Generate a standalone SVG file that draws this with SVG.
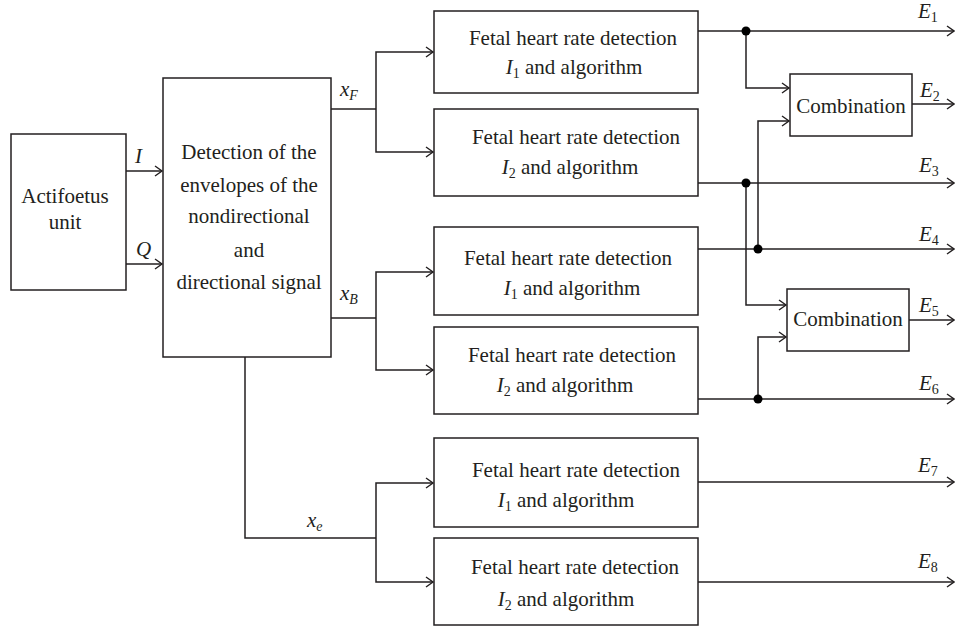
<svg xmlns="http://www.w3.org/2000/svg" width="955" height="630" viewBox="0 0 955 630">
<defs>
<style>
.box{fill:#fff;stroke:#231f20;stroke-width:1.5}
.ln{fill:none;stroke:#231f20;stroke-width:1.5}
.t{font-size:21px;fill:#231f20}
.m{text-anchor:middle}
.i{font-style:italic}
.s{font-size:14px}
.dot{fill:#000}
</style>
<marker id="ar" markerWidth="10" markerHeight="12" refX="8" refY="6" orient="auto" markerUnits="userSpaceOnUse">
<path d="M1,1 L8,6 L1,11" fill="none" stroke="#231f20" stroke-width="1.4"/>
</marker>
</defs>
<rect width="955" height="630" fill="#fff"/>
<g font-family="Liberation Serif, Times New Roman, serif">
<g id="connectors">
<path class="ln" d="M126,171 H162" marker-end="url(#ar)"/>
<path class="ln" d="M126,264 H162" marker-end="url(#ar)"/>
<path class="ln" d="M331,109 H376"/>
<path class="ln" d="M376,109 V52 H433" marker-end="url(#ar)"/>
<path class="ln" d="M376,109 V152 H433" marker-end="url(#ar)"/>
<path class="ln" d="M331,318 H376"/>
<path class="ln" d="M376,318 V272 H433" marker-end="url(#ar)"/>
<path class="ln" d="M376,318 V370 H433" marker-end="url(#ar)"/>
<path class="ln" d="M245,357 V538 H376"/>
<path class="ln" d="M376,538 V483 H433" marker-end="url(#ar)"/>
<path class="ln" d="M376,538 V582 H433" marker-end="url(#ar)"/>
<path class="ln" d="M698,31 H954" marker-end="url(#ar)"/>
<path class="ln" d="M746,31 V88 H789" marker-end="url(#ar)"/>
<path class="ln" d="M912,104 H954" marker-end="url(#ar)"/>
<path class="ln" d="M698,183 H954" marker-end="url(#ar)"/>
<path class="ln" d="M746,183 V305 H786" marker-end="url(#ar)"/>
<path class="ln" d="M698,249 H954" marker-end="url(#ar)"/>
<path class="ln" d="M758,249 V121 H789" marker-end="url(#ar)"/>
<path class="ln" d="M909,320 H954" marker-end="url(#ar)"/>
<path class="ln" d="M698,399 H954" marker-end="url(#ar)"/>
<path class="ln" d="M758,399 V337 H786" marker-end="url(#ar)"/>
<path class="ln" d="M698,482 H954" marker-end="url(#ar)"/>
<path class="ln" d="M698,582 H954" marker-end="url(#ar)"/>
<circle class="dot" cx="746" cy="31" r="4.5"/>
<circle class="dot" cx="746" cy="183" r="4.5"/>
<circle class="dot" cx="758" cy="249" r="4.5"/>
<circle class="dot" cx="758" cy="399" r="4.5"/>
<text class="t i" x="135" y="163">I</text>
<text class="t i" x="136" y="256">Q</text>
<text class="t i" x="340" y="96">x<tspan class="s" dy="4">F</tspan></text>
<text class="t i" x="340" y="300">x<tspan class="s" dy="4">B</tspan></text>
<text class="t i" x="307" y="527">x<tspan class="s" dy="4">e</tspan></text>
<text class="t i" x="918" y="18">E<tspan class="s" font-style="normal" dy="4">1</tspan></text>
<text class="t i" x="920" y="97">E<tspan class="s" font-style="normal" dy="4">2</tspan></text>
<text class="t i" x="919" y="172">E<tspan class="s" font-style="normal" dy="4">3</tspan></text>
<text class="t i" x="919" y="241">E<tspan class="s" font-style="normal" dy="4">4</tspan></text>
<text class="t i" x="919" y="312">E<tspan class="s" font-style="normal" dy="4">5</tspan></text>
<text class="t i" x="919" y="390">E<tspan class="s" font-style="normal" dy="4">6</tspan></text>
<text class="t i" x="918" y="472">E<tspan class="s" font-style="normal" dy="4">7</tspan></text>
<text class="t i" x="918" y="568">E<tspan class="s" font-style="normal" dy="4">8</tspan></text>
</g>

<g id="actifoetus">
<rect class="box" x="11" y="134" width="115" height="156"/>
<text class="t m" x="65" y="203">Actifoetus</text>
<text class="t m" x="65" y="229">unit</text>
</g>

<g id="detection">
<rect class="box" x="163" y="78" width="168" height="279"/>
<text class="t m" x="249" y="159">Detection of the</text>
<text class="t m" x="249" y="192">envelopes of the</text>
<text class="t m" x="249" y="223">nondirectional</text>
<text class="t m" x="249" y="257">and</text>
<text class="t m" x="249" y="289">directional signal</text>
</g>

<g id="fhr1">
<rect class="box" x="434" y="11" width="264" height="82"/>
<text class="t m" x="573" y="45">Fetal heart rate detection</text>
<text class="t m" x="574" y="74"><tspan class="i">I</tspan><tspan class="s" dy="4">1</tspan><tspan dy="-4"> and algorithm</tspan></text>
</g>
<g id="fhr2">
<rect class="box" x="434" y="109" width="264" height="87"/>
<text class="t m" x="576" y="144">Fetal heart rate detection</text>
<text class="t m" x="570" y="174"><tspan class="i">I</tspan><tspan class="s" dy="4">2</tspan><tspan dy="-4"> and algorithm</tspan></text>
</g>
<g id="fhr3">
<rect class="box" x="434" y="227" width="264" height="88"/>
<text class="t m" x="568" y="265">Fetal heart rate detection</text>
<text class="t m" x="572" y="295"><tspan class="i">I</tspan><tspan class="s" dy="4">1</tspan><tspan dy="-4"> and algorithm</tspan></text>
</g>
<g id="fhr4">
<rect class="box" x="434" y="327" width="264" height="87"/>
<text class="t m" x="572" y="362">Fetal heart rate detection</text>
<text class="t m" x="565" y="392"><tspan class="i">I</tspan><tspan class="s" dy="4">2</tspan><tspan dy="-4"> and algorithm</tspan></text>
</g>
<g id="fhr5">
<rect class="box" x="434" y="438" width="264" height="89"/>
<text class="t m" x="576" y="477">Fetal heart rate detection</text>
<text class="t m" x="566" y="507"><tspan class="i">I</tspan><tspan class="s" dy="4">1</tspan><tspan dy="-4"> and algorithm</tspan></text>
</g>
<g id="fhr6">
<rect class="box" x="434" y="538" width="264" height="87"/>
<text class="t m" x="575" y="574">Fetal heart rate detection</text>
<text class="t m" x="566" y="606"><tspan class="i">I</tspan><tspan class="s" dy="4">2</tspan><tspan dy="-4"> and algorithm</tspan></text>
</g>

<g id="combination1">
<rect class="box" x="790" y="74" width="122" height="62"/>
<text class="t m" x="851" y="113">Combination</text>
</g>
<g id="combination2">
<rect class="box" x="787" y="289" width="122" height="62"/>
<text class="t m" x="848" y="326">Combination</text>
</g>
</g>
</svg>
